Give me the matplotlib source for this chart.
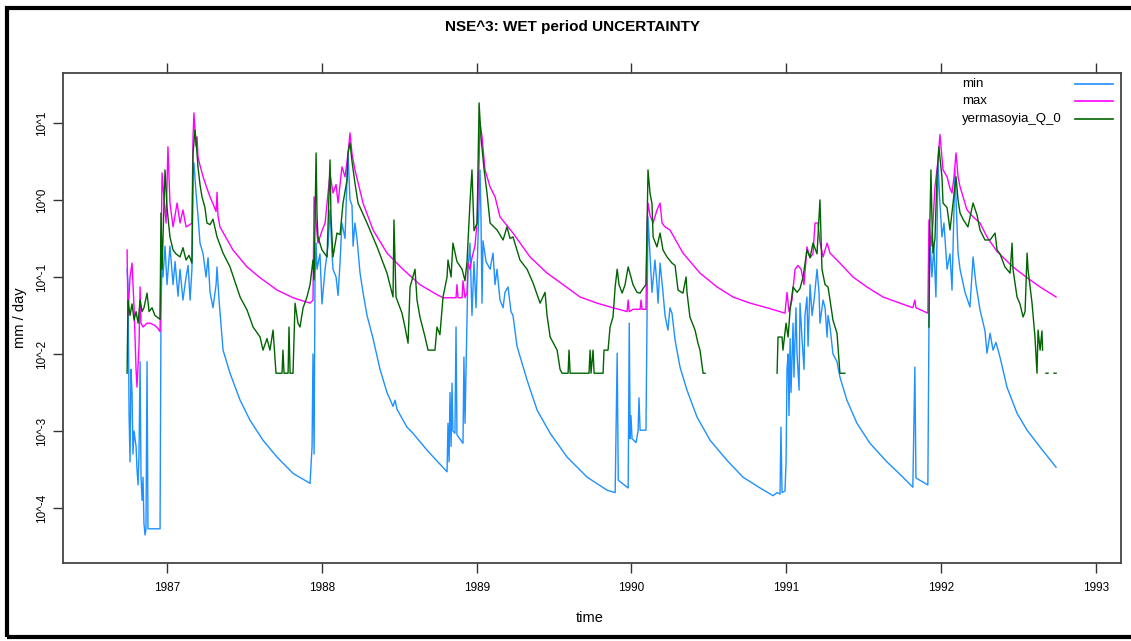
import numpy as np
import matplotlib
matplotlib.use("Agg")
import matplotlib.pyplot as plt
from matplotlib.patches import Rectangle
from matplotlib.lines import Line2D

plt.rcParams['font.family'] = ['Liberation Sans Narrow', 'Liberation Sans', 'DejaVu Sans']

# time in decimal years, discharge as log10(mm/day)

# ---- min ----
t_min = [
    1986.742, 1986.748, 1986.755, 1986.761, 1986.767, 1986.774, 1986.780, 1986.787, 1986.800, 1986.806,
    1986.813, 1986.819, 1986.826, 1986.832, 1986.839, 1986.845, 1986.851, 1986.858, 1986.864, 1986.871,
    1986.877, 1986.910, 1986.955, 1986.958, 1986.961, 1986.968, 1986.974, 1986.987, 1987.000, 1987.019,
    1987.039, 1987.052, 1987.071, 1987.084, 1987.103, 1987.123, 1987.136, 1987.149, 1987.161, 1987.168,
    1987.174, 1987.187, 1987.200, 1987.213, 1987.233, 1987.252, 1987.265, 1987.278, 1987.297, 1987.317,
    1987.323, 1987.336, 1987.362, 1987.407, 1987.472, 1987.536, 1987.620, 1987.711, 1987.814, 1987.924,
    1987.937, 1987.943, 1987.950,
    # 1987/88
    1987.956, 1987.963, 1987.969, 1987.988, 1988.001, 1988.021, 1988.040, 1988.053, 1988.066, 1988.072,
    1988.092, 1988.105, 1988.118, 1988.130, 1988.150, 1988.163, 1988.169, 1988.182, 1988.195, 1988.202,
    1988.214, 1988.227, 1988.247, 1988.266, 1988.292, 1988.331, 1988.376, 1988.421, 1988.460, 1988.473,
    1988.486, 1988.550, 1988.589, 1988.680, 1988.809, 1988.815, 1988.822, 1988.828, 1988.835, 1988.841,
    1988.847, 1988.860, 1988.867, 1988.873, 1988.912, 1988.918, 1988.925, 1988.938, 1988.944, 1988.957,
    1988.970, 1988.983, 1988.996, 1989.009, 1989.022, 1989.028, 1989.035, 1989.041, 1989.061, 1989.087,
    1989.106, 1989.119, 1989.132, 1989.151, 1989.171, 1989.183, 1989.203, 1989.222, 1989.235, 1989.261,
    1989.326, 1989.391, 1989.475, 1989.585, 1989.714, 1989.844, 1989.895, 1989.908, 1989.915, 1989.979,
    # 1989/90
    1989.986, 1989.992, 1989.997, 1990.004, 1990.030, 1990.043, 1990.049, 1990.056, 1990.094, 1990.101,
    1990.107, 1990.120, 1990.133, 1990.152, 1990.165, 1990.172, 1990.185, 1990.204, 1990.217, 1990.236,
    1990.249, 1990.262, 1990.282, 1990.314, 1990.359, 1990.424, 1990.508, 1990.617, 1990.721, 1990.831,
    1990.915, 1990.941, 1990.960, 1990.966, 1990.973, 1990.992, 1990.999, 1991.005,
    # 1990/91
    1991.012, 1991.018, 1991.025, 1991.031, 1991.044, 1991.050, 1991.063, 1991.070, 1991.083, 1991.089,
    1991.102, 1991.115, 1991.121, 1991.134, 1991.141, 1991.154, 1991.167, 1991.180, 1991.199, 1991.212,
    1991.218, 1991.238, 1991.251, 1991.264, 1991.270, 1991.283, 1991.302, 1991.328, 1991.347, 1991.392,
    1991.457, 1991.541, 1991.650, 1991.754, 1991.818, 1991.831, 1991.838, 1991.915,
    # 1991/92
    1991.922, 1991.928, 1991.941, 1991.954, 1991.967, 1991.974, 1991.980, 1991.993, 1992.006, 1992.019,
    1992.039, 1992.058, 1992.071, 1992.090, 1992.110, 1992.123, 1992.155, 1992.187, 1992.207, 1992.226,
    1992.252, 1992.284, 1992.297, 1992.317, 1992.336, 1992.355, 1992.381, 1992.426, 1992.491, 1992.556,
    1992.640, 1992.743,
]
lg_min = [
    -0.9, -1.1, -2.8, -3.4, -2.2, -2.5, -3.3, -3.0, -3.2, -3.5,
    -3.7, -3.3, -2.1, -3.6, -3.9, -3.6, -4.2, -4.35, -4.28, -2.1,
    -4.27, -4.27, -4.27, -2.8, -1.5, -0.74, -1.0, -0.6, -1.1, -0.6,
    -1.1, -0.8, -1.25, -0.9, -1.3, -1.0, -0.85, -1.3, -0.9, 0.3,
    0.48, 0.1, -0.2, -0.56, -0.7, -1.0, -0.75, -1.2, -1.4, -1.1,
    -0.87, -1.3, -1.95, -2.25, -2.6, -2.86, -3.12, -3.34, -3.55, -3.68,
    -3.2, -2.0, -3.3,
    -1.0, -0.56, -0.9, -0.7, -1.35, -0.9, -0.6, -0.13, -0.7, -0.9,
    -1.0, -1.24, -0.8, -0.3, -0.5, 0.3, 0.61, 0.0, -0.07, -0.6,
    -0.3, -0.5, -0.95, -1.2, -1.5, -1.8, -2.2, -2.5, -2.68, -2.6,
    -2.72, -2.95, -3.03, -3.25, -3.53, -2.9, -3.4, -2.5, -3.2, -2.38,
    -3.0, -3.03, -1.65, -3.05, -3.16, -2.04, -2.9, -1.5, -0.9, -0.56,
    -1.5, -0.8, -1.4, -0.5, 0.39, -0.2, -1.34, -0.53, -0.8, -0.9,
    -0.69, -1.1, -0.9, -1.3, -1.4, -1.2, -1.13, -1.45, -1.5, -1.9,
    -2.34, -2.73, -3.03, -3.34, -3.6, -3.77, -3.8, -1.99, -3.64, -3.74,
    -1.6, -3.1, -2.8, -3.1, -3.15, -3.0, -2.57, -2.99, -2.99, -1.5,
    -0.22, -0.7, -1.2, -0.78, -1.1, -1.34, -0.82, -1.2, -1.5, -1.69,
    -1.4, -1.47, -1.82, -2.17, -2.47, -2.82, -3.12, -3.38, -3.6, -3.74,
    -3.84, -3.8, -3.82, -2.95, -3.8, -3.78, -3.4, -2.2,
    -2.0, -2.8, -1.8, -2.5, -1.6, -2.3, -1.4, -2.0, -2.47, -1.34,
    -1.8, -2.2, -1.5, -1.26, -1.9, -1.1, -1.5, -1.3, -0.9, -1.2,
    -1.6, -1.3, -1.4, -1.78, -1.5, -1.65, -2.0, -2.1, -2.3, -2.6,
    -2.9, -3.16, -3.4, -3.6, -3.73, -2.17, -3.61, -3.7,
    -1.65, -0.48, -1.0, -0.6, -1.26, -0.5, 0.48, -0.04, -0.48, -0.3,
    -0.9, -0.7, -1.17, 0.39, -0.69, -0.9, -1.2, -1.39, -0.74, -1.1,
    -1.43, -1.7, -1.99, -1.73, -1.95, -1.85, -2.04, -2.43, -2.77, -2.99,
    -3.21, -3.47,
]

# ---- max ----
t_max = [
    1986.742, 1986.748, 1986.761, 1986.774, 1986.787, 1986.800, 1986.806, 1986.819, 1986.826, 1986.832,
    1986.845, 1986.871, 1986.890, 1986.922, 1986.942, 1986.955, 1986.961, 1986.968, 1986.981, 1986.994,
    1987.006, 1987.019, 1987.039, 1987.052, 1987.065, 1987.084, 1987.103, 1987.123, 1987.149, 1987.161,
    1987.168, 1987.174, 1987.187, 1987.194, 1987.200, 1987.213, 1987.233, 1987.258, 1987.278, 1987.297,
    1987.317, 1987.323, 1987.329, 1987.342, 1987.426, 1987.517, 1987.601, 1987.711, 1987.814, 1987.924,
    1987.943, 1987.950, 1987.963, 1987.975,
    1988.001, 1988.021, 1988.053, 1988.072, 1988.092, 1988.105, 1988.130, 1988.150, 1988.169, 1988.182,
    1988.195, 1988.214, 1988.266, 1988.331, 1988.421, 1988.524, 1988.634, 1988.744, 1988.783, 1988.828,
    1988.867, 1988.873, 1988.880, 1988.906, 1988.912, 1988.925, 1988.938, 1988.944, 1988.957, 1988.970,
    1988.989, 1989.003, 1989.016, 1989.022, 1989.035, 1989.054, 1989.087, 1989.119, 1989.151, 1989.235,
    1989.345, 1989.455, 1989.559, 1989.668, 1989.778, 1989.881, 1989.972,
    1989.979, 1989.986, 1990.010, 1990.056, 1990.062, 1990.069, 1990.094, 1990.101, 1990.107, 1990.120,
    1990.140, 1990.165, 1990.185, 1990.198, 1990.217, 1990.249, 1990.333, 1990.443, 1990.553, 1990.656,
    1990.766, 1990.876, 1990.992,
    1991.005, 1991.018, 1991.037, 1991.057, 1991.076, 1991.096, 1991.115, 1991.134, 1991.154, 1991.173,
    1991.186, 1991.205, 1991.218, 1991.238, 1991.264, 1991.283, 1991.347, 1991.431, 1991.521, 1991.625,
    1991.734, 1991.818, 1991.831, 1991.838, 1991.915,
    1991.922, 1991.935, 1991.948, 1991.961, 1991.980, 1991.993, 1992.013, 1992.039, 1992.058, 1992.071,
    1992.084, 1992.097, 1992.110, 1992.123, 1992.168, 1992.207, 1992.252, 1992.297, 1992.362, 1992.465,
    1992.556, 1992.640, 1992.743,
]
lg_max = [
    -0.65, -1.5, -1.0, -0.82, -1.4, -2.2, -2.43, -1.9, -1.13, -1.6,
    -1.65, -1.6, -1.6, -1.63, -1.67, -1.71, -0.8, 0.35, 0.0, -0.3,
    0.69, -0.04, -0.35, -0.2, -0.04, -0.3, -0.13, -0.35, -0.32, -0.3,
    0.82, 1.13, 0.7, 0.82, 0.56, 0.45, 0.3, 0.15, 0.04, -0.05,
    -0.15, 0.1, -0.2, -0.35, -0.65, -0.87, -1.01, -1.17, -1.27, -1.34,
    -1.3, 0.04, -0.3, -0.56,
    -0.4, -0.3, 0.35, 0.09, 0.2, -0.04, 0.43, 0.3, 0.6, 0.87,
    0.6, 0.39, -0.04, -0.39, -0.69, -0.9, -1.1, -1.23, -1.27, -1.27,
    -1.27, -1.1, -1.27, -1.27, -1.05, -1.27, -1.2, -0.82, -0.9, -0.75,
    -0.6, -0.3, 0.5, 1.0, 0.82, 0.39, 0.17, 0.04, -0.22, -0.43,
    -0.74, -0.95, -1.1, -1.26, -1.34, -1.4, -1.45,
    -1.3, -1.45, -1.42, -1.42, -1.3, -1.42, -1.42, -0.35, -0.04, -0.2,
    -0.3, -0.13, -0.04, -0.3, -0.35, -0.39, -0.69, -0.95, -1.13, -1.26,
    -1.34, -1.4, -1.47,
    -1.2, -1.45, -1.3, -0.9, -0.85, -0.9, -1.1, -0.61, -0.75, -0.7,
    -0.3, -0.3, -0.55, -0.74, -0.56, -0.69, -0.82, -1.0, -1.13, -1.26,
    -1.34, -1.4, -1.3, -1.4, -1.47,
    -0.26, -0.6, -0.3, 0.17, 0.5, 0.85, 0.39, 0.3, 0.15, 0.09,
    0.3, 0.61, 0.3, 0.17, -0.13, -0.22, -0.3, -0.48, -0.67, -0.87,
    -1.01, -1.13, -1.26,
]

# ---- observed (yermasoyia_Q_0), nan = missing ----
nan = np.nan
t_obs = [
    1986.742, 1986.748, 1986.761, 1986.774, 1986.787, 1986.800, 1986.813, 1986.826, 1986.839, 1986.851,
    1986.871, 1986.884, 1986.903, 1986.922, 1986.935, 1986.955, 1986.961, 1986.968, 1986.974, 1986.987,
    1987.000, 1987.019, 1987.039, 1987.058, 1987.084, 1987.103, 1987.123, 1987.142, 1987.161, 1987.168,
    1987.181, 1987.194, 1987.200, 1987.213, 1987.226, 1987.245, 1987.258, 1987.278, 1987.297, 1987.323,
    1987.362, 1987.407, 1987.472, 1987.517, 1987.556, 1987.601, 1987.620, 1987.646, 1987.665, 1987.685,
    1987.704, 1987.743, 1987.749, 1987.756, 1987.782, 1987.788, 1987.795, 1987.814, 1987.827, 1987.846,
    1987.859, 1987.879, 1987.904, 1987.924, 1987.943, 1987.950,
    1987.963, 1987.969, 1987.975, 1988.001, 1988.034, 1988.053, 1988.059, 1988.072, 1988.098, 1988.118,
    1988.137, 1988.163, 1988.169, 1988.182, 1988.195, 1988.214, 1988.234, 1988.292, 1988.357, 1988.421,
    1988.460, 1988.466, 1988.479, 1988.518, 1988.537, 1988.557, 1988.570, 1988.602, 1988.615, 1988.634,
    1988.667, 1988.686, 1988.731, 1988.744, 1988.763, 1988.783, 1988.809, 1988.815, 1988.835, 1988.847,
    1988.873, 1988.906, 1988.925, 1988.938, 1988.957, 1988.970, 1988.983, 1989.003,
    1989.016, 1989.028, 1989.048, 1989.067, 1989.087, 1989.132, 1989.171, 1989.196, 1989.216, 1989.235,
    1989.280, 1989.326, 1989.365, 1989.410, 1989.442, 1989.455, 1989.475, 1989.520, 1989.539, 1989.552,
    1989.591, 1989.597, 1989.604, 1989.726, 1989.733, 1989.739, 1989.752, 1989.759, 1989.817, 1989.823,
    1989.849, 1989.862, 1989.881, 1989.895, 1989.908, 1989.920, 1989.940, 1989.959, 1989.979, 1989.997,
    1990.010, 1990.036, 1990.056, 1990.075, 1990.094, 1990.101, 1990.107, 1990.120, 1990.133, 1990.140,
    1990.165, 1990.185, 1990.204, 1990.230, 1990.262, 1990.282, 1990.301, 1990.333, 1990.353, 1990.359,
    1990.378, 1990.411, 1990.430, 1990.443, 1990.463, 1990.476, nan,
    1990.941, 1990.947, 1990.973, 1990.979, 1990.999, 1991.012, 1991.025, 1991.044, 1991.070, 1991.089,
    1991.109, 1991.134, 1991.154, 1991.173, 1991.199, 1991.218, 1991.231, 1991.251, 1991.270, 1991.283,
    1991.302, 1991.328, 1991.347, 1991.379, nan,
    1991.922, 1991.928, 1991.935, 1991.941, 1991.948, 1991.961, 1991.974, 1991.986, 1992.006, 1992.013,
    1992.039, 1992.058, 1992.078, 1992.097, 1992.110, 1992.123, 1992.142, 1992.174, 1992.207, 1992.233,
    1992.252, 1992.284, 1992.317, 1992.349, 1992.362, 1992.381, 1992.413, 1992.446, 1992.459, 1992.465,
    1992.491, 1992.510, 1992.530, 1992.543, 1992.556, 1992.562, 1992.588, 1992.607, 1992.620, 1992.627,
    1992.640, 1992.652, 1992.656, nan, 1992.678, 1992.691, nan, 1992.730, 1992.743,
]
lg_obs = [
    -2.25, -1.3, -1.5, -1.35, -1.56, -1.45, -1.6, -1.3, -1.45, -1.4,
    -1.21, -1.45, -1.4, -1.5, -1.52, -1.55, -0.17, -0.9, -0.5, 0.39,
    -0.1, -0.48, -0.65, -0.7, -0.74, -0.62, -0.78, -0.72, -0.82, 0.61,
    0.91, 0.6, 0.43, 0.2, 0.04, -0.1, -0.3, -0.32, -0.25, -0.48,
    -0.69, -0.87, -1.26, -1.43, -1.65, -1.78, -1.95, -1.8, -1.95, -1.69,
    -2.25, -2.25, -1.95, -2.25, -2.25, -1.65, -2.25, -2.25, -1.34, -1.6,
    -1.65, -1.4, -1.26, -1.1, -0.78, -1.04,
    0.61, -0.2, -0.48, -0.65, -0.74, 0.52, -0.2, -0.74, -0.43, -0.45,
    -0.04, 0.26, 0.61, 0.74, 0.5, 0.22, -0.04, -0.3, -0.61, -0.95,
    -1.26, -0.26, -1.26, -1.47, -1.65, -1.86, -1.13, -0.9, -1.3, -1.52,
    -1.78, -1.95, -1.95, -1.65, -1.75, -1.26, -1.0, -0.78, -1.0, -0.56,
    -0.8, -0.9, -1.05, -0.8, -0.04, 0.39, -0.4, -0.3,
    1.26, 0.82, 0.4, 0.09, -0.3, -0.39, -0.52, -0.35, -0.5, -0.48,
    -0.78, -0.9, -1.08, -1.34, -1.2, -1.5, -1.78, -1.95, -2.2, -2.25,
    -2.25, -1.95, -2.25, -2.25, -1.95, -2.25, -1.95, -2.25, -2.25, -1.95,
    -1.95, -1.65, -1.52, -1.13, -0.9, -1.1, -1.21, -1.1, -0.87, -1.0,
    -1.1, -1.2, -1.21, -1.15, -1.1, -0.35, 0.39, 0.09, -0.05, -0.48,
    -0.61, -0.43, -0.65, -0.74, -0.82, -0.85, -1.17, -1.21, -1.0, -1.2,
    -1.52, -1.69, -1.86, -1.95, -2.25, -2.25, nan,
    -2.25, -1.78, -1.78, -1.95, -1.6, -1.78, -1.43, -1.13, -1.2, -1.15,
    -1.0, -0.65, -0.75, -0.56, -0.7, 0.0, -0.9, -1.1, -1.13, -1.3,
    -1.56, -1.73, -2.25, -2.25, nan,
    -1.65, -0.3, 0.39, -0.2, -0.69, -0.5, 0.3, 0.69, 0.3, -0.04,
    -0.1, -0.39, -0.04, 0.3, 0.0, -0.17, -0.25, -0.35, -0.04, -0.2,
    -0.39, -0.52, -0.52, -0.43, -0.65, -0.7, -0.87, -0.95, -0.56, -0.9,
    -1.26, -1.35, -1.52, -1.45, -0.69, -0.9, -1.34, -1.78, -2.25, -1.69,
    -1.95, -1.7, -1.95, nan, -2.25, -2.25, nan, -2.25, -2.25,
]

series_names = ["min", "max", "yermasoyia_Q_0"]
series_colors = ["#1E90FF", "#FF00FF", "#006400"]
year_ticks = [1987, 1988, 1989, 1990, 1991, 1992, 1993]
y_exps = [1, 0, -1, -2, -3, -4]

fig = plt.figure(figsize=(11.31, 6.41), dpi=100)
ax = fig.add_axes([0.0557, 0.1217, 0.9355, 0.7645])

data = [(t_min, lg_min), (t_max, lg_max), (t_obs, lg_obs)]
for (t, lg), c in zip(data, series_colors):
    ax.plot(np.array(t), 10.0 ** np.array(lg), color=c, lw=1.0)

ax.set_yscale('log')
ax.set_xlim(1986.328, 1993.163)
ax.set_ylim(10 ** -4.714, 10 ** 1.649)
ax.yaxis.set_major_locator(matplotlib.ticker.FixedLocator([10.0 ** e for e in y_exps]))
ax.yaxis.set_major_formatter(matplotlib.ticker.FixedFormatter(["10^%d" % e for e in y_exps]))
ax.yaxis.set_minor_locator(matplotlib.ticker.NullLocator())
ax.set_xticks(year_ticks)
ax.set_xticklabels([str(y) for y in year_ticks])

for s in ax.spines.values():
    s.set_color('#444444')
    s.set_linewidth(1.3)
ax.tick_params(axis='x', direction='out', length=7, width=1, color='#333333',
               labelsize=8.5, pad=7, top=True)
ax.tick_params(axis='y', direction='out', length=7, width=1, color='#333333',
               labelsize=8.5, pad=4)
for lab in ax.get_yticklabels():
    lab.set_rotation(90)
    lab.set_va('center')

ax.set_xlabel("time", fontsize=10.5)
ax.xaxis.set_label_coords(0.498, -0.097)
ax.set_ylabel("mm / day", fontsize=10.5)
ax.yaxis.set_label_coords(-0.034, 0.5)

fig.text(0.506, 1 - 27 / 641, "NSE^3: WET period UNCERTAINTY", ha='center', va='center',
         fontsize=11, fontweight='bold')

# legend: text on the left, line sample on the right
leg_y = [0.978, 0.943, 0.906]
for name, c, yy in zip(series_names, series_colors, leg_y):
    ax.text(0.850, yy, name, transform=ax.transAxes, ha='left', va='center', fontsize=9.5)
    ax.add_line(Line2D([0.9565, 0.9924], [yy, yy], transform=ax.transAxes, color=c, lw=1.2))

# outer frame
fig.add_artist(Rectangle((0.0062, 0.0062), 1.2, 0.9813, transform=fig.transFigure,
                         fill=False, lw=3, edgecolor='black'))

fig.savefig("out.png", dpi=100)
